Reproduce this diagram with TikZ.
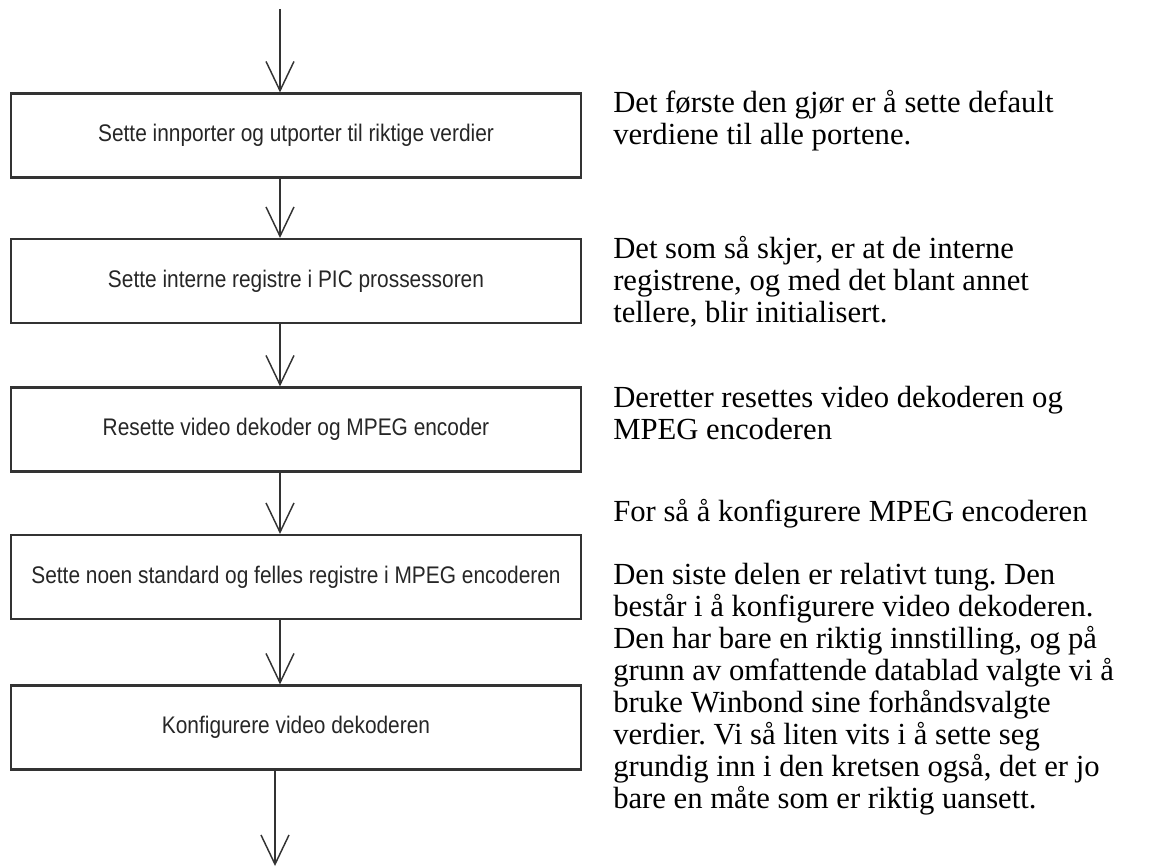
\documentclass[tikz,border=0pt]{standalone}
\usepackage{fontspec}
\setmainfont{Liberation Serif}
\newfontfamily\boxfont[FakeStretch=0.87]{Liberation Sans}
\usetikzlibrary{arrows.meta}
\definecolor{ink}{HTML}{333333}
\frenchspacing
\begin{document}
\begin{tikzpicture}[x=0.75pt,y=-0.75pt,
  stepbox/.style={draw=ink,line width=1.6pt,rectangle,inner sep=0pt,
    minimum width=427.5pt,minimum height=63pt,
    font=\boxfont\fontsize{18}{21}\selectfont,text=black!85},
  flow/.style={draw=ink,line width=1.3pt,
    -{Straight Barb[length=22pt,width=21pt,line width=1.1pt]}},
  note/.style={anchor=base west,inner sep=0pt,align=left,
    font=\fontsize{23}{24}\selectfont}]
\useasboundingbox (0,0) rectangle (1162,867);

% process steps
\node[stepbox] (b1) at (296,135.5) {Sette innporter og utporter til riktige verdier};
\node[stepbox] (b2) at (296,281) {Sette interne registre i PIC prossessoren};
\node[stepbox] (b3) at (296,429.5) {Resette video dekoder og MPEG encoder};
\node[stepbox] (b4) at (296,577) {Sette noen standard og felles registre i MPEG encoderen};
\node[stepbox] (b5) at (296,727.5) {Konfigurere video dekoderen};

% flow axis
\coordinate (start) at (280,9);
\coordinate (axis) at (280,0);
\coordinate (end) at (275,866);

\draw[flow] (start) -- (b1.north -| start);
\draw[flow] (b1.south -| axis) -- (b2.north -| axis);
\draw[flow] (b2.south -| axis) -- (b3.north -| axis);
\draw[flow] (b3.south -| axis) -- (b4.north -| axis);
\draw[flow] (b4.south -| axis) -- (b5.north -| axis);
\draw[flow] (b5.south -| end) -- (end);

% explanations (placed by the baseline of their last line)
\node[note] (t1) at (613,144) {Det første den gjør er å sette default\\verdiene til alle portene.};
\node[note] (t2) at (613,322) {Det som så skjer, er at de interne\\registrene, og med det blant annet\\tellere, blir initialisert.};
\node[note] (t3) at (613,439) {Deretter resettes video dekoderen og\\MPEG encoderen};
\node[note] (t4) at (613,521) {For så å konfigurere MPEG encoderen};
\node[note] (t5) at (613,808) {Den siste delen er relativt tung. Den\\består i å konfigurere video dekoderen.\\Den har bare en riktig innstilling, og på\\grunn av omfattende datablad valgte vi å\\bruke Winbond sine forhåndsvalgte\\verdier. Vi så liten vits i å sette seg\\grundig inn i den kretsen også, det er jo\\bare en måte som er riktig uansett.};
\end{tikzpicture}
\end{document}
